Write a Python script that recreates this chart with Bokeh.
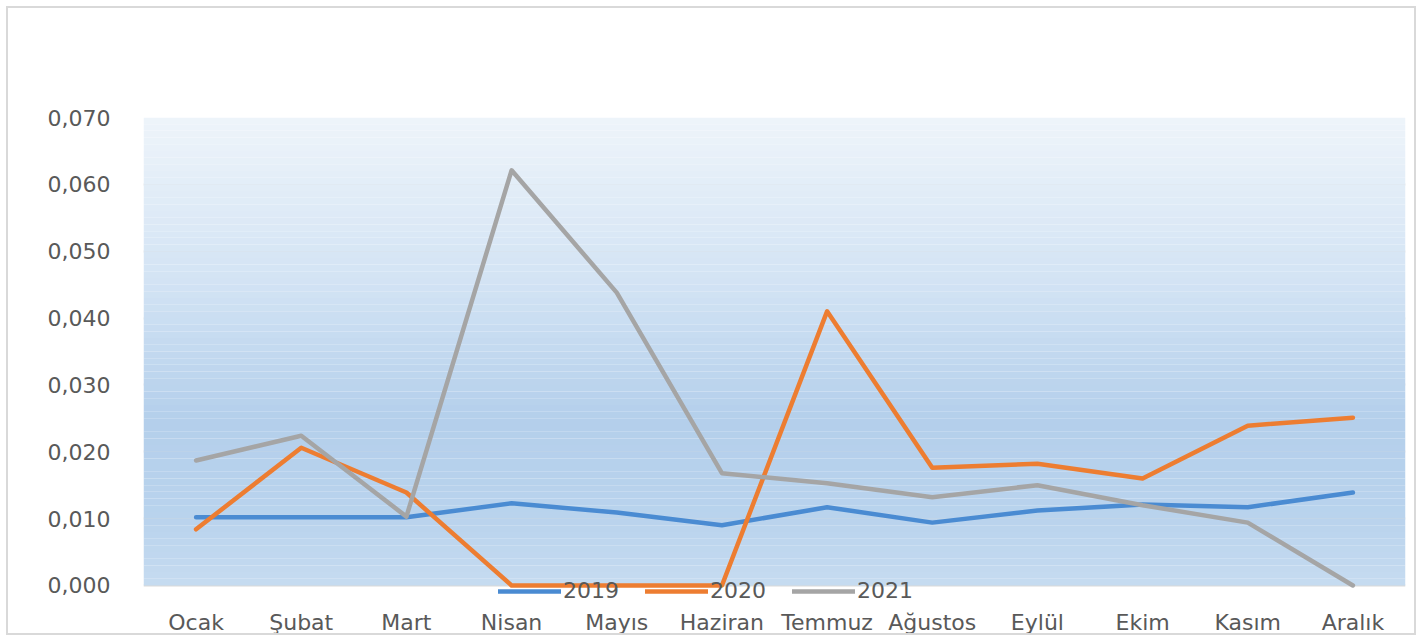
from bokeh.plotting import figure
from bokeh.models import BoxAnnotation, Legend, LegendItem, FixedTicker, CustomJSTickFormatter
from bokeh.embed import file_html
from bokeh.resources import INLINE

months = ["Ocak", "Şubat", "Mart", "Nisan", "Mayıs", "Haziran", "Temmuz",
          "Ağustos", "Eylül", "Ekim", "Kasım", "Aralık"]
y2019 = [0.0102, 0.0102, 0.0102, 0.0123, 0.0109, 0.0090, 0.0117, 0.0094, 0.0112, 0.0121, 0.0117, 0.0139]
y2020 = [0.0084, 0.0206, 0.0139, 0.0, 0.0, 0.0, 0.0410, 0.0176, 0.0182, 0.0160, 0.0239, 0.0251]
y2021 = [0.0187, 0.0224, 0.0103, 0.0621, 0.0438, 0.0168, 0.0153, 0.0132, 0.0150, 0.0120, 0.0094, 0.0]
series_names = ["2019", "2020", "2021"]
colors = ["#4a8bd2", "#ed7d31", "#a5a5a5"]
y_ticks = [0.0, 0.01, 0.02, 0.03, 0.04, 0.05, 0.06, 0.07]

FONT = "DejaVu Sans"
TXT = "#595959"
FS = "22px"

# the range reaches a little below 0 so that the legend strip sits inside the frame
p = figure(x_range=months, y_range=(-0.0027, 0.07), width=1410, height=629,
           output_backend="svg", toolbar_location=None,
           min_border_left=135, min_border_right=13, min_border_top=109, min_border_bottom=34)
p.background_fill_color = "#ffffff"
p.border_fill_color = "#ffffff"
p.outline_line_color = None
p.styles = {"margin": "6px 0px 0px 6px", "border": "2px solid #d9d9d9"}

# vertical gradient background (0 .. 0.07)
def hex2rgb(h):
    h = h.lstrip("#")
    return [int(h[i:i + 2], 16) for i in (0, 2, 4)]

stops = [(0.0, "#c6dbf0"), (0.010, "#b9d3ed"), (0.025, "#b4cfeb"), (0.045, "#d2e3f4"), (0.070, "#eef4fa")]
n = 70
for i in range(n):
    lo = 0.07 * i / n
    hi = 0.07 * (i + 1) / n
    mid = (lo + hi) / 2
    for (a, ca), (b, cb) in zip(stops[:-1], stops[1:]):
        if a <= mid <= b:
            t = (mid - a) / (b - a)
            ra, rb = hex2rgb(ca), hex2rgb(cb)
            c = "#%02x%02x%02x" % tuple(int(round(ra[k] + (rb[k] - ra[k]) * t)) for k in range(3))
            break
    p.add_layout(BoxAnnotation(bottom=lo, top=hi, fill_color=c, fill_alpha=1.0,
                               line_color=None, level="underlay"))

renderers = []
for name, ys, col in zip(series_names, [y2019, y2020, y2021], colors):
    r = p.line(months, ys, line_color=col, line_width=4.5, line_join="round", line_cap="round")
    renderers.append(r)

# axes
p.yaxis.ticker = FixedTicker(ticks=y_ticks)
p.yaxis.formatter = CustomJSTickFormatter(code="return tick.toFixed(3).replace('.', ',');")
for ax in (p.xaxis[0], p.yaxis[0]):
    ax.axis_line_color = None
    ax.major_tick_line_color = None
    ax.minor_tick_line_color = None
    ax.major_label_text_font = FONT
    ax.major_label_text_font_size = FS
    ax.major_label_text_color = TXT
p.yaxis.major_label_standoff = 27
p.xaxis.major_label_standoff = 0

p.xgrid.grid_line_color = None
p.ygrid.ticker = FixedTicker(ticks=y_ticks)
p.ygrid.grid_line_color = "#d9d9d9"
p.ygrid.grid_line_width = 2
p.ygrid.level = "underlay"

legend = Legend(items=[LegendItem(label=nm, renderers=[r]) for nm, r in zip(series_names, renderers)],
                orientation="horizontal", location=(355, 0),
                background_fill_alpha=0, border_line_color=None,
                label_text_font=FONT, label_text_font_size=FS, label_text_color=TXT,
                glyph_width=63, glyph_height=22, label_standoff=2, spacing=26,
                padding=0, margin=0)
p.add_layout(legend, "center")

open("out.html", "w").write(file_html(p, INLINE))
